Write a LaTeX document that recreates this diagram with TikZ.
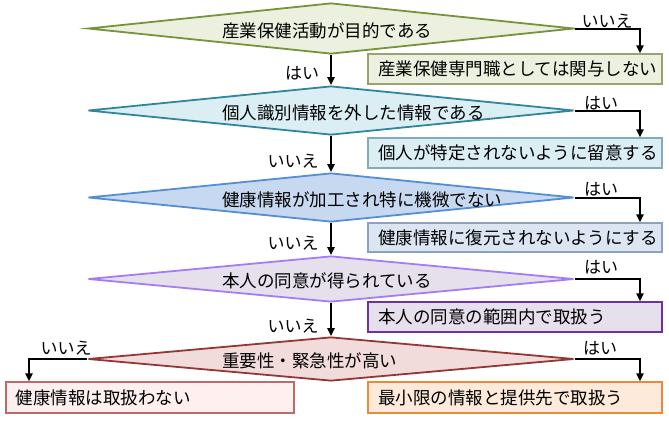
\documentclass[tikz,border=0pt]{standalone}
\usepackage{fontspec}
\setmainfont{Noto Sans CJK JP}
\usetikzlibrary{shapes.geometric,arrows.meta}
\definecolor{gF}{HTML}{EBF1DE}\definecolor{gD}{HTML}{77933C}\definecolor{gB}{HTML}{98A36F}
\definecolor{tF}{HTML}{DAEEF3}\definecolor{tD}{HTML}{31859C}\definecolor{tB}{HTML}{86AAB8}
\definecolor{bF}{HTML}{C6D9F1}\definecolor{bD}{HTML}{558ED5}\definecolor{bBF}{HTML}{DCE6F2}\definecolor{bB}{HTML}{8EA2BC}
\definecolor{pF}{HTML}{E5E0EC}\definecolor{pD}{HTML}{A47CF5}\definecolor{pB}{HTML}{7030A0}
\definecolor{rF}{HTML}{F2DCDB}\definecolor{rD}{HTML}{953735}\definecolor{rBF}{HTML}{FDF0EF}\definecolor{rB}{HTML}{BC6B6A}
\definecolor{oF}{HTML}{FDEADA}\definecolor{oB}{HTML}{E98A3C}
\begin{document}
\begin{tikzpicture}[x=1pt,y=-1pt,
  dia/.style={shape=diamond,draw,line width=1.8pt,inner sep=0pt,shape aspect=20,minimum width=486pt},
  dtext/.style={anchor=west,font=\fontsize{17.5}{20}\selectfont,inner sep=0pt},
  box/.style={draw,line width=1.2pt,inner xsep=10pt,inner ysep=0pt,text width=274pt,align=left,font=\fontsize{17.5}{20}\selectfont},
  lab/.style={font=\fontsize{17}{19}\selectfont,inner sep=0pt},
  arr/.style={line width=2pt,-{Triangle[length=8pt,width=7pt]}}]
\useasboundingbox (0,0) rectangle (669,424);
% diamonds
\node[dia,fill=gF,draw=gD,minimum height=51pt] (d1) at (331,28.5) {};
\node[dia,fill=tF,draw=tD,minimum height=49pt] (d2) at (331,110.5) {};
\node[dia,fill=bF,draw=bD,minimum height=49pt] (d3) at (331,197.5) {};
\node[dia,fill=pF,draw=pD,minimum height=46pt] (d4) at (331,279) {};
\node[dia,fill=rF,draw=rD,minimum height=44pt] (d5) at (331,359) {};
\node[dtext] (t1) at (222,31) {産業保健活動が目的である};
\node[dtext] (t2) at (222,113) {個人識別情報を外した情報である};
\node[dtext] (t3) at (222,200) {健康情報が加工され特に機微でない};
\node[dtext] (t4) at (222,281) {本人の同意が得られている};
\node[dtext] (t5) at (222,361) {重要性・緊急性が高い};
% boxes
\node[box,fill=gF,draw=gB,minimum height=30pt] (b1) at (515,69) {産業保健専門職としては関与しない};
\node[box,fill=tF,draw=tB,minimum height=30pt] (b2) at (515,153) {個人が特定されないように留意する};
\node[box,fill=bBF,draw=bB,minimum height=29pt] (b3) at (515,237.5) {健康情報に復元されないようにする};
\node[box,fill=pF,draw=pB,minimum height=30pt] (b4) at (515,317) {本人の同意の範囲内で取扱う};
\node[box,fill=rBF,draw=rB,minimum height=31pt,text width=268pt] (b5) at (150,397.5) {健康情報は取扱わない};
\node[box,fill=oF,draw=oB,minimum height=31pt] (b6) at (515,397.5) {最小限の情報と提供先で取扱う};
% connectors
\draw[arr] (d1.south) -- (d2.north);
\draw[arr] (d2.south) -- (d3.north);
\draw[arr] (d3.south) -- (d4.north);
\draw[arr] (d4.south) -- (d5.north);
\draw[arr] (d1.east) -| ([xshift=125pt]b1.north);
\draw[arr] (d2.east) -| ([xshift=125pt]b2.north);
\draw[arr] (d3.east) -| ([xshift=125pt]b3.north);
\draw[arr] (d4.east) -| ([xshift=125pt]b4.north);
\draw[arr] (d5.east) -| ([xshift=125pt]b6.north);
\draw[arr] (d5.west) -| ([xshift=-121pt]b5.north);
% labels
\node[lab] (l1) at (607,21) {いいえ};
\node[lab] (l2) at (302,73) {はい};
\node[lab] (l3) at (601,103) {はい};
\node[lab] (l4) at (293,161) {いいえ};
\node[lab] (l5) at (601,189) {はい};
\node[lab] (l6) at (293,243) {いいえ};
\node[lab] (l7) at (601,267) {はい};
\node[lab] (l8) at (293,326) {いいえ};
\node[lab] (l9) at (66,348) {いいえ};
\node[lab] (l10) at (600,348) {はい};
\end{tikzpicture}
\end{document}
